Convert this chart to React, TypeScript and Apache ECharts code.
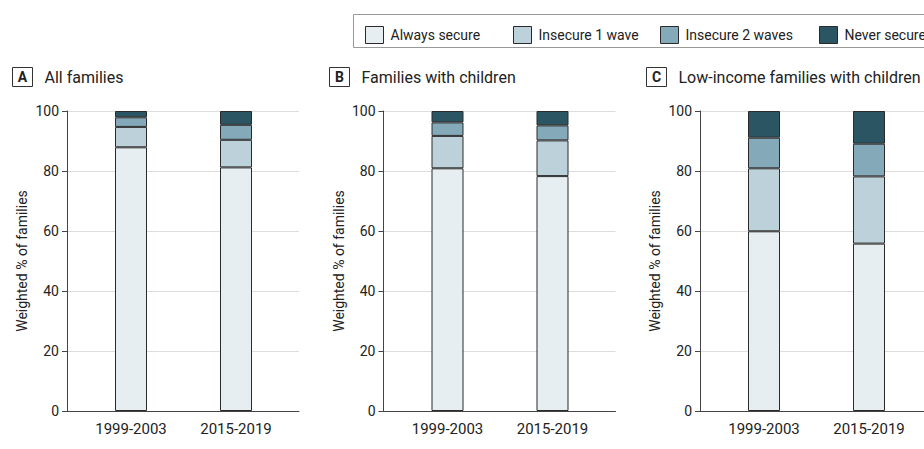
import React, { useEffect, useRef } from "react";
import * as echarts from "echarts";

const categories = ["1999-2003", "2015-2019"];
const panelLetters = ["A", "B", "C"];
const panelTitles = ["All families", "Families with children", "Low-income families with children"];
const seriesNames = ["Always secure", "Insecure 1 wave", "Insecure 2 waves", "Never secure"];
const seriesColors = ["#e6eef1", "#bcd1da", "#84a9b8", "#2c5564"];
// per panel: [1999-2003, 2015-2019]
const alwaysSecure = [[87.9, 81.2], [80.9, 78.3], [59.9, 55.8]];
const insecure1Wave = [[6.8, 9.2], [10.8, 11.9], [21.0, 22.4]];
const insecure2Waves = [[3.2, 5.0], [4.5, 5.0], [10.2, 10.9]];
const neverSecure = [[2.1, 4.6], [3.8, 4.8], [8.9, 10.9]];
const yTicks = { min: 0, max: 100, interval: 20 };
const yAxisTitle = "Weighted % of families";

const FONT = "Roboto";
const TEXT = "#222";

export default function App() {
  const ref = useRef<HTMLDivElement>(null);
  useEffect(() => {
    if (!ref.current) return;
    const chart = echarts.init(ref.current, null, { renderer: "svg" });
    const panelX = [67, 383.5, 700];
    const top = 111;
    const height = 300;
    const frameW = 232;
    const barInset = 11.5;
    const barW = 210;
    const allValues = [alwaysSecure, insecure1Wave, insecure2Waves, neverSecure];

    const grid: any[] = [];
    const xAxis: any[] = [];
    const yAxis: any[] = [];
    const series: any[] = [];

    panelX.forEach((x, i) => {
      grid.push({ left: x, top, width: frameW, height });
    });
    panelX.forEach((x, i) => {
      grid.push({ left: x + barInset, top, width: barW, height });
    });
    panelX.forEach((x, i) => {
      xAxis.push({
        type: "category",
        gridIndex: i,
        data: categories,
        axisLine: { show: true, lineStyle: { color: "#444", width: 1 } },
        axisTick: { show: false },
        axisLabel: { show: false },
        splitLine: { show: false },
      });
      yAxis.push({
        type: "value",
        gridIndex: i,
        min: yTicks.min,
        max: yTicks.max,
        interval: yTicks.interval,
        name: yAxisTitle,
        nameLocation: "middle",
        nameGap: 38,
        nameTextStyle: { fontFamily: FONT, fontSize: 14, color: TEXT },
        axisLine: { show: true, lineStyle: { color: "#444", width: 1 } },
        axisTick: { show: true, length: 5, lineStyle: { color: "#444" } },
        axisLabel: { fontFamily: FONT, fontSize: 14, color: TEXT, margin: 8 },
        splitLine: { show: true, lineStyle: { color: "#dddddd", width: 1 } },
      });
    });
    panelX.forEach((x, i) => {
      xAxis.push({
        type: "category",
        gridIndex: 3 + i,
        data: categories,
        axisLine: { show: false },
        axisTick: { show: false },
        axisLabel: { fontFamily: FONT, fontSize: 15, color: TEXT, margin: 10 },
        splitLine: { show: false },
      });
      yAxis.push({
        type: "value",
        gridIndex: 3 + i,
        min: yTicks.min,
        max: yTicks.max,
        interval: yTicks.interval,
        axisLine: { show: false },
        axisTick: { show: false },
        axisLabel: { show: false },
        splitLine: { show: false },
      });
      seriesNames.forEach((name, s) => {
        series.push({
          type: "bar",
          name,
          stack: "panel" + i,
          xAxisIndex: 3 + i,
          yAxisIndex: 3 + i,
          barWidth: 32,
          data: allValues[s][i],
          itemStyle: { color: seriesColors[s], borderColor: "#2a2a2a", borderWidth: 1 },
        });
      });
    });

    const legendLefts = [365, 513, 660, 819];
    const legend = seriesNames.map((name, s) => ({
      data: [name],
      left: legendLefts[s],
      top: 26,
      itemWidth: 18,
      itemHeight: 17,
      padding: 0,
      icon: "rect",
      itemStyle: { borderColor: "#2a2a2a", borderWidth: 1 },
      textStyle: { fontFamily: FONT, fontSize: 14, color: TEXT, padding: [0, 0, 0, 2] },
      selectedMode: false,
    }));

    const graphic: any[] = [
      {
        type: "rect",
        shape: { x: 353.5, y: 14.5, width: 620, height: 33 },
        style: { fill: "none", stroke: "#999", lineWidth: 1 },
        silent: true,
      },
    ];
    panelLetters.forEach((letter, i) => {
      const bx = 12.5 + 317 * i;
      graphic.push({
        type: "rect",
        shape: { x: bx, y: 67.5, width: 20, height: 19 },
        style: { fill: "#fff", stroke: "#333", lineWidth: 1 },
        silent: true,
      });
      graphic.push({
        type: "text",
        x: bx + 10,
        y: 77,
        style: {
          text: letter,
          fontFamily: FONT,
          fontWeight: "bold",
          fontSize: 14,
          fill: TEXT,
          align: "center",
          verticalAlign: "middle",
        },
        silent: true,
      });
      graphic.push({
        type: "text",
        x: bx + 32,
        y: 77,
        style: {
          text: panelTitles[i],
          fontFamily: FONT,
          fontSize: 16,
          fill: TEXT,
          align: "left",
          verticalAlign: "middle",
        },
        silent: true,
      });
    });

    chart.setOption({
      animation: false,
      backgroundColor: "#fff",
      grid,
      xAxis,
      yAxis,
      series,
      legend,
      graphic,
    });
    return () => chart.dispose();
  }, []);
  return (
    <div
      ref={ref}
      style={{ position: "fixed", left: 0, top: 0, width: 924, height: 449, background: "#fff" }}
    />
  );
}
